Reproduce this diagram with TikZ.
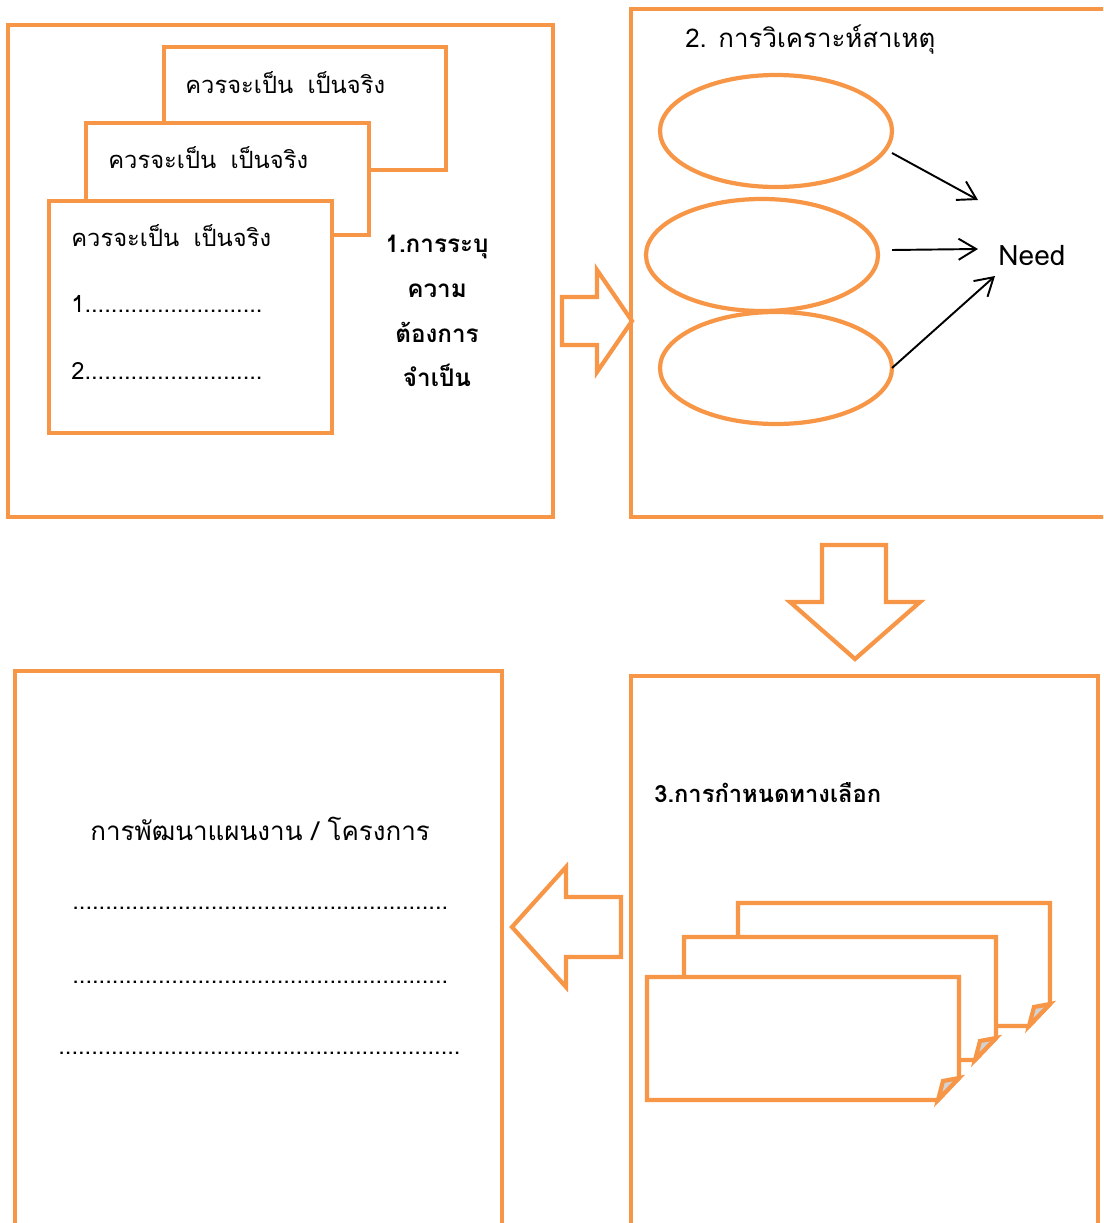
\documentclass[tikz,border=0pt]{standalone}
\usepackage{fontspec}
\setmainfont[Script=Thai]{Loma}
\usetikzlibrary{arrows.meta,shapes.geometric,calc}
\newlength\pxu
\setlength\pxu{0.02cm}
\definecolor{orangeline}{HTML}{F79646}
\tikzset{
  panel/.style={draw=orangeline, line width=2.4pt, rectangle, anchor=north west,
    inner sep=0pt, outer sep=0pt},
  sheet/.style={panel, fill=white},
  bubble/.style={draw=orangeline, line width=2.4pt, ellipse, minimum width=232\pxu,
    minimum height=112\pxu, inner sep=0pt, outer sep=0pt},
  blockarrow/.style={draw=orangeline, line width=2.4pt},
  needarrow/.style={draw=black, line width=1.1pt,
    -{Straight Barb[length=10pt,width=12pt,line width=1.1pt]}},
  thaitext/.style={anchor=west, inner sep=0pt, font=\fontsize{13.5}{16}\selectfont},
}
\begin{document}
\begin{tikzpicture}[x=1\pxu, y=-1\pxu]
  \clip (0,0) rectangle (1103,1223);

  % 1. das Erkennen des Bedarfs
  \node[panel, minimum width=545\pxu, minimum height=492\pxu] (step1) at (8,25) {};
  \node[sheet, minimum width=282\pxu, minimum height=123\pxu] (sheetC) at (164,47) {};
  \node[sheet, minimum width=283\pxu, minimum height=112\pxu] (sheetB) at (86,123) {};
  \node[sheet, minimum width=283\pxu, minimum height=232\pxu] (sheetA) at (49,201) {};
  \node[thaitext] (rowC) at (185,83) {ควรจะเป็น\hspace{0.6em}เป็นจริง};
  \node[thaitext] (rowB) at (108,158) {ควรจะเป็น\hspace{0.6em}เป็นจริง};
  \node[thaitext] (rowA) at (71,236) {ควรจะเป็น\hspace{0.6em}เป็นจริง};
  \node[thaitext] (itemA) at (71,304) {1...........................};
  \node[thaitext] (itemB) at (71,371) {2...........................};
  \node[align=center, inner sep=0pt, font=\bfseries\fontsize{13.8}{25.5}\selectfont]
    (title1) at (437,311) {1.การระบุ\\ความ\\ต้องการ\\จำเป็น};

  \draw[blockarrow] (562,297) -- (597,297) -- (597,270) -- (632,321)
    -- (597,372) -- (597,345) -- (562,345) -- cycle;

  % 2. Ursachenanalyse
  \node[panel, minimum width=500\pxu, minimum height=508\pxu] (step2) at (631,9) {};
  \node[thaitext, font=\fontsize{14.7}{17}\selectfont] (title2) at (685,40)
    {2. การวิเคราะห์สาเหตุ};
  \node[bubble] (causeA) at (776,131) {};
  \node[bubble] (causeB) at (762,255) {};
  \node[bubble] (causeC) at (776,368) {};
  \node[thaitext, font=\fontsize{16}{18}\selectfont] (need) at (998,256) {Need};
  \draw[needarrow] ($(causeA.east)+(0,22)$) -- ($(need.west)+(-20,-56)$);
  \draw[needarrow] ($(causeB.east)+(14,-5)$) -- ($(need.west)+(-20,-7)$);
  \draw[needarrow] (causeC.east) -- ($(need.west)+(-3,20)$);

  \draw[blockarrow] (822,545) -- (886,545) -- (886,602) -- (920,602)
    -- (855,659) -- (790,602) -- (822,602) -- cycle;

  % 3. Alternativen festlegen
  \node[panel, minimum width=467\pxu, minimum height=600\pxu] (step3) at (631,676) {};
  \node[thaitext, font=\bfseries\fontsize{13.5}{16}\selectfont] (title3) at (654,793)
    {3.การกำหนดทางเลือก};
  \foreach \l/\t in {738/903, 684/937, 647/977} {
    \filldraw[blockarrow, fill=white] (\l,\t) -- ++(312,0) -- ++(0,101)
      -- ++(-21,22) -- ++(-291,0) -- cycle;
    \filldraw[blockarrow, fill=gray!35] (\l+291,\t+123) -- (\l+296,\t+104)
      -- (\l+312,\t+101) -- cycle;
  }

  \draw[blockarrow] (621,897) -- (566,897) -- (566,867) -- (512,927)
    -- (566,987) -- (566,957) -- (621,957) -- cycle;

  % Plan / Projekt
  \node[panel, minimum width=487\pxu, minimum height=600\pxu] (step4) at (15,671) {};
  \node[thaitext, font=\fontsize{14.8}{18}\selectfont] (plan) at (90,829)
    {การพัฒนาแผนงาน / โครงการ};
  \node[thaitext] (lineA) at (72,908) {.........................................................};
  \node[thaitext] (lineB) at (72,982) {.........................................................};
  \node[thaitext] (lineC) at (58,1053) {.............................................................};
\end{tikzpicture}
\end{document}
